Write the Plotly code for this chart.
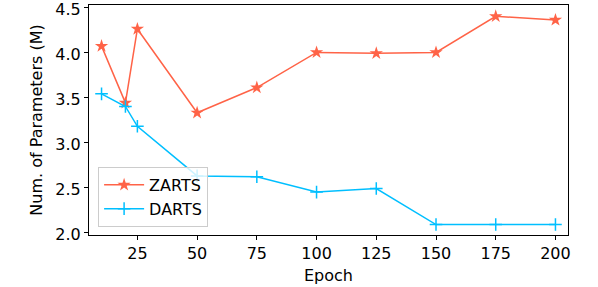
import plotly.graph_objects as go

epochs = [10, 20, 25, 50, 75, 100, 125, 150, 175, 200]
zarts = [4.07, 3.44, 4.26, 3.33, 3.61, 4.00, 3.99, 4.00, 4.40, 4.36]
darts = [3.54, 3.40, 3.18, 2.63, 2.62, 2.45, 2.49, 2.09, 2.09, 2.09]
x_ticks = [25, 50, 75, 100, 125, 150, 175, 200]
y_ticks = [2.0, 2.5, 3.0, 3.5, 4.0, 4.5]

font = "DejaVu Sans"
fs = 16
fig = go.Figure()
fig.add_trace(go.Scatter(x=epochs, y=zarts, mode="lines+markers", name="ZARTS",
                         line=dict(color="#ff6347", width=1.5),
                         marker=dict(symbol="star", size=10, color="#ff6347")))
fig.add_trace(go.Scatter(x=epochs, y=darts, mode="lines+markers", name="DARTS",
                         line=dict(color="#00bfff", width=1.5),
                         marker=dict(symbol="cross-thin", size=9,
                                     line=dict(color="#00bfff", width=1.5))))

axis_common = dict(showline=True, mirror=True, linecolor="black", linewidth=1,
                   ticks="outside", ticklen=4, tickcolor="black", showgrid=False,
                   zeroline=False, automargin=False, ticklabeloverflow="allow",
                   tickfont=dict(family=font, size=fs, color="black"))
fig.update_xaxes(range=[4.75, 205.25], tickvals=x_ticks,
                 title=dict(text="Epoch", font=dict(family=font, size=fs, color="black"), standoff=7),
                 **axis_common)
fig.update_yaxes(range=[1.974, 4.526], tickvals=y_ticks, tickformat=".1f", ticklabelshift=2,
                 title=dict(text="Num. of Parameters (M)", font=dict(family=font, size=fs, color="black"), standoff=8),
                 **axis_common)
fig.update_layout(width=598, height=287, margin=dict(l=89, r=30, t=5, b=52),
                  plot_bgcolor="white", paper_bgcolor="white",
                  font=dict(family=font, size=fs, color="black"),
                  legend=dict(x=0.019, y=0.035, xanchor="left", yanchor="bottom",
                              bgcolor="rgba(255,255,255,0.8)", bordercolor="#cccccc",
                              borderwidth=1, font=dict(family=font, size=fs),
                              itemwidth=40, tracegroupgap=0))
fig.write_html("out.html", config={"displayModeBar": False},
               post_script="document.body.style.margin='0';")
